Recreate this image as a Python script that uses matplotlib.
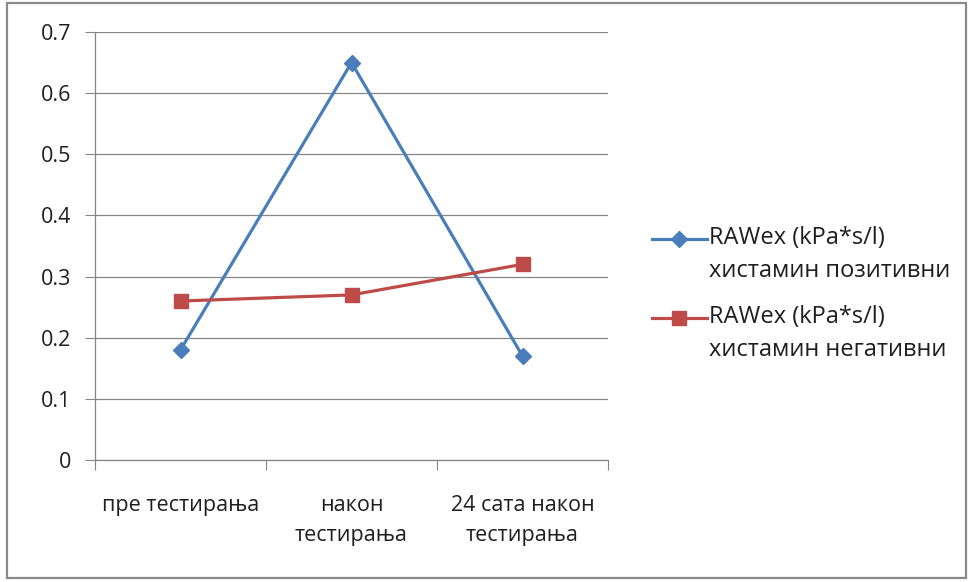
import matplotlib
matplotlib.use("Agg")
import matplotlib.pyplot as plt
from matplotlib.patches import Rectangle
from matplotlib.legend_handler import HandlerLine2D

plt.rcParams['font.family'] = ['Open Sans', 'DejaVu Sans']

categories = ["пре тестирања", "након\nтестирања", "24 сата након\nтестирања"]
positive = [0.18, 0.65, 0.17]
negative = [0.26, 0.27, 0.32]
series_labels = ["RAWex (kPa*s/l)\nхистамин позитивни",
                 "RAWex (kPa*s/l)\nхистамин негативни"]
yticks = [0, 0.1, 0.2, 0.3, 0.4, 0.5, 0.6, 0.7]

blue = "#4A7EBB"
red = "#BE4B48"
grey = "#868686"
text_color = "#1f1f1f"
fs = 15.5
legend_fs = 17
axis_line_sp = 1.58
legend_line_sp = 1.48

W, H = 969, 582
fig = plt.figure(figsize=(W / 100, H / 100), dpi=100)

# outer chart frame
fig.patches.append(Rectangle((7 / W, 1 - 578 / H), 959 / W, 575 / H,
                             transform=fig.transFigure, fill=False,
                             edgecolor="#8a8a8a", linewidth=1.6))

ax = fig.add_axes([95 / W, 1 - 460 / H, 513 / W, 428 / H])
x = [0.5, 1.5, 2.5]
ax.plot(x, positive, color=blue, lw=2.3, marker="D", ms=8.5,
        label=series_labels[0], solid_joinstyle="round")
ax.plot(x, negative, color=red, lw=2.3, marker="s", ms=9.5,
        label=series_labels[1], solid_joinstyle="round")

ax.set_xlim(0, 3)
ax.set_ylim(0, 0.7)
ax.set_yticks(yticks)
ax.set_yticklabels(["0" if v == 0 else f"{v:g}" for v in yticks])
ax.set_xticks([0, 1, 2, 3])
ax.set_xticklabels([])
ax.set_xticks(x, minor=True)
ax.set_xticklabels(categories, minor=True, linespacing=axis_line_sp)
ax.tick_params(axis="x", which="minor", length=0, pad=25)
ax.tick_params(axis="x", which="major", length=7, color=grey, direction="out")
ax.tick_params(axis="y", length=7, color=grey, pad=10)
ax.tick_params(which="both", labelsize=fs, labelcolor=text_color)

ax.grid(axis="y", color=grey, lw=0.9)
ax.set_axisbelow(True)
for s in ["top", "right"]:
    ax.spines[s].set_visible(False)
for s in ["left", "bottom"]:
    ax.spines[s].set_color(grey)
    ax.spines[s].set_linewidth(0.9)


class FirstLineHandler(HandlerLine2D):
    """Line handle placed level with the first line of a two-line label."""

    def __init__(self, lift, **kw):
        super().__init__(**kw)
        self.lift = lift

    def create_artists(self, legend, orig_handle, xdescent, ydescent,
                       width, height, fontsize, trans):
        return super().create_artists(legend, orig_handle, xdescent,
                                      ydescent - 2 * self.lift, width,
                                      height, fontsize, trans)


handles, labels = ax.get_legend_handles_labels()
leg = fig.legend(handles, labels, loc="center left",
                 bbox_to_anchor=(631 / W, 1 - 294 / H),
                 frameon=False, fontsize=legend_fs, handlelength=2.3,
                 handletextpad=0.12, labelspacing=0.95,
                 handler_map={h: FirstLineHandler(12) for h in handles})
for t in leg.get_texts():
    t.set_linespacing(legend_line_sp)
    t.set_color(text_color)

fig.savefig("out.png", dpi=100)
